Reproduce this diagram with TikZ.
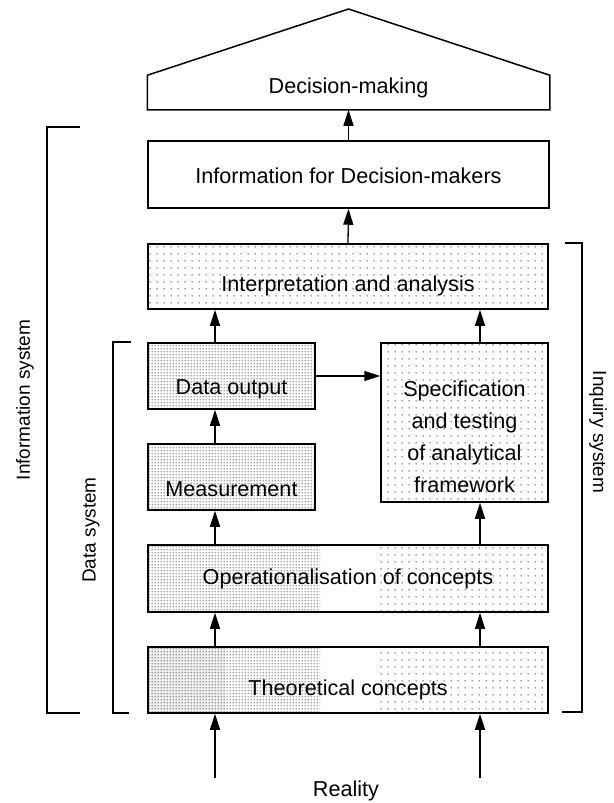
\documentclass[tikz,border=0pt]{standalone}
\usepackage{fontspec}
\setmainfont{Liberation Sans}
\usetikzlibrary{arrows.meta,patterns.meta,backgrounds}

\tikzdeclarepattern{
  name=sparsedots,
  type=uncolored,
  bottom left={(0pt,0pt)},
  top right={(7pt,7pt)},
  tile size={(7pt,7pt)},
  code={\fill (3.5pt,3.5pt) circle (0.7pt);}
}
\tikzdeclarepattern{
  name=densedots,
  type=uncolored,
  bottom left={(0pt,0pt)},
  top right={(2.6pt,3pt)},
  tile size={(2.6pt,3pt)},
  code={\fill (1.3pt,1.5pt) circle (0.65pt);}
}

\begin{document}
\begin{tikzpicture}[x=1pt,y=-1pt,>={Triangle[length=16pt,width=10pt]},
    box/.style={draw,line width=1.5pt,inner sep=0pt,text depth=4pt,
      font=\fontsize{21.6}{32}\selectfont},
    side/.style={inner sep=0pt,font=\fontsize{19}{22}\selectfont},
    conn/.style={line width=1.3pt}]
  \useasboundingbox (0,0) rectangle (613,803);

  % columns of the vertical arrows
  \coordinate (lcol) at (215,0);
  \coordinate (rcol) at (480,0);
  \coordinate (splitc) at (225,0);
  \coordinate (splita) at (320,0);
  \coordinate (splitb) at (380,0);

  \node[box,draw=none,minimum width=401pt,minimum height=33pt,text height=15pt,text depth=13pt] (decision) at (348.5,92.5) {Decision-making};
  \coordinate (roof) at (348.5,9);
  \draw[line width=1.5pt] (decision.south west) -- (decision.north west) -- (roof)
    -- (decision.north east) -- (decision.south east) -- cycle;

  \node[box,minimum width=401pt,minimum height=67pt,text height=21pt] (info) at (348.5,174.5) {Information for Decision-makers};
  \node[box,pattern=sparsedots,minimum width=400pt,minimum height=65pt,text height=34pt] (interp) at (348,276.5) {Interpretation and analysis};
  \node[box,pattern=densedots,minimum width=167pt,minimum height=66pt,text height=41pt] (dataout) at (231.5,376) {Data output};
  \node[box,pattern=densedots,minimum width=167pt,minimum height=66pt,text height=43pt] (meas) at (231.5,477) {Measurement};
  \node[box,pattern=sparsedots,align=center,minimum width=167pt,minimum height=159pt,text height=143pt,text depth=4pt] (spec) at (464.5,422.5) {Specification\\and testing\\of analytical\\framework};
  \node[box,minimum width=400pt,minimum height=67pt,text height=16pt] (oper) at (348,578.5) {Operationalisation of concepts};
  \node[box,minimum width=400pt,minimum height=66pt,text height=35pt] (theo) at (348,680) {Theoretical concepts};

  \begin{scope}[on background layer]
    \fill[pattern=densedots] (oper.north west) rectangle (oper.south -| splita);
    \fill[pattern=sparsedots] (oper.north -| splitb) rectangle (oper.south east);
    \fill[black!6] (theo.north west) rectangle (theo.south -| splitc);
    \fill[pattern=densedots] (theo.north west) rectangle (theo.south -| splita);
    \fill[pattern=sparsedots] (theo.north -| splitb) rectangle (theo.south east);
  \end{scope}

  \coordinate (reall) at (215,778);
  \coordinate (realr) at (480,778);
  \node[inner sep=0pt,font=\fontsize{21.6}{32}\selectfont] (reality) at (346,791) {Reality};

  \path[conn] (info.north)           edge[->] (decision.south)
              (interp.north)         edge[->] (info.south)
              (dataout.north -| lcol) edge[->] (interp.south -| lcol)
              (spec.north -| rcol)    edge[->] (interp.south -| rcol)
              (dataout.east)         edge[->] (dataout.east -| spec.west)
              (meas.north -| lcol)    edge[->] (dataout.south -| lcol)
              (oper.north -| lcol)    edge[->] (meas.south -| lcol)
              (oper.north -| rcol)    edge[->] (spec.south -| rcol)
              (theo.north -| lcol)    edge[->] (oper.south -| lcol)
              (theo.north -| rcol)    edge[->] (oper.south -| rcol)
              (reall)                edge[->] (theo.south -| lcol)
              (realr)                edge[->] (theo.south -| rcol);

  % system brackets
  \draw[conn] (80,127) -- (47,127) -- (47,713) -- (80,713);
  \draw[conn] (131,342) -- (113,342) -- (113,713) -- (129,713);
  \draw[conn] (565,243) -- (582,243) -- (582,712) -- (562,712);

  \node[side,rotate=90] (infosys) at (25,400) {Information system};
  \node[side,rotate=90] (datasys) at (91,530) {Data system};
  \node[side,rotate=-90] (inqsys) at (598,432) {Inquiry system};
\end{tikzpicture}
\end{document}
